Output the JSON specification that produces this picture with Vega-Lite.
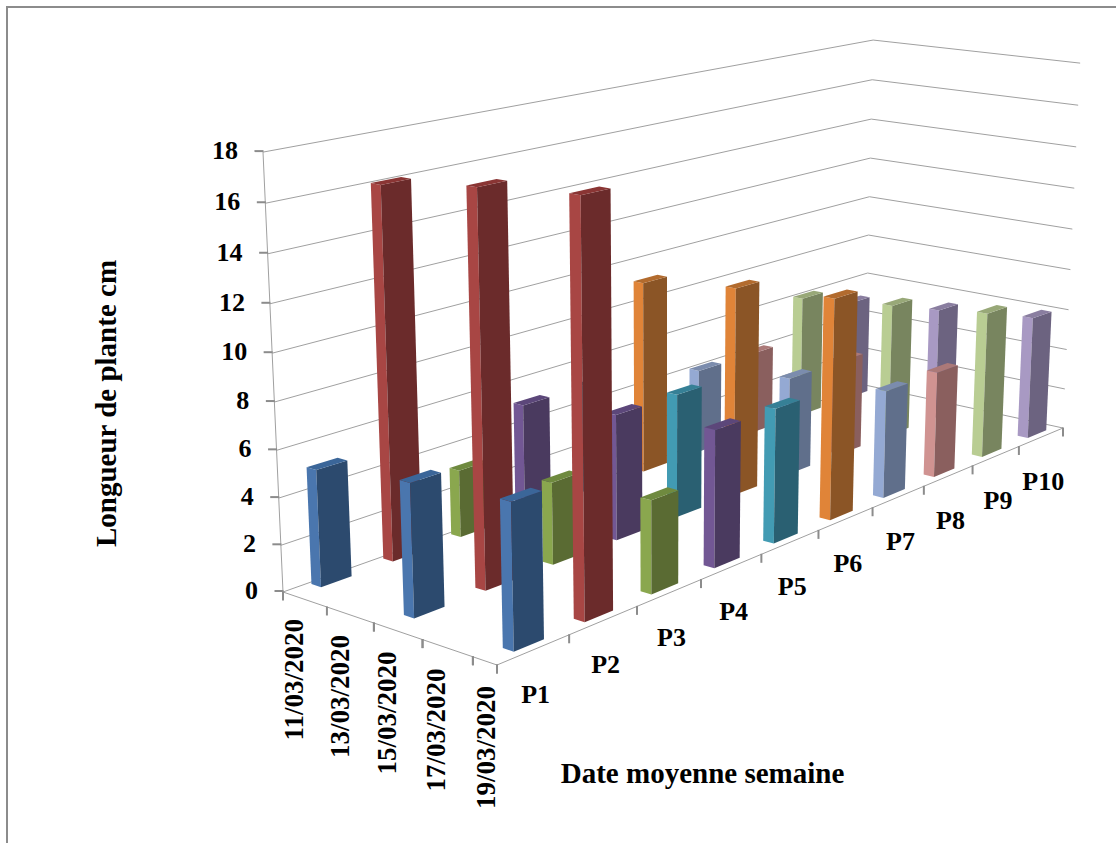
{"$schema":"https://vega.github.io/schema/vega-lite/v6.json","width":1112,"height":840,"autosize":{"type":"none"},"padding":{"left":7,"top":7,"right":0,"bottom":0},"background":"white","config":{"view":{"stroke":"#8c8c8c","strokeWidth":2},"font":"Liberation Serif"},"datasets":{"levels":[{"level":0},{"level":2},{"level":4},{"level":6},{"level":8},{"level":10},{"level":12},{"level":14},{"level":16},{"level":18}],"plants":[{"plant":"P1"},{"plant":"P2"},{"plant":"P3"},{"plant":"P4"},{"plant":"P5"},{"plant":"P6"},{"plant":"P7"},{"plant":"P8"},{"plant":"P9"},{"plant":"P10"}],"dates":[{"date":"11/03/2020"},{"date":"13/03/2020"},{"date":"15/03/2020"},{"date":"17/03/2020"},{"date":"19/03/2020"}],"bars":[{"plant":"P10","date":"11/03/2020","value":5},{"plant":"P9","date":"11/03/2020","value":6},{"plant":"P8","date":"11/03/2020","value":4},{"plant":"P7","date":"11/03/2020","value":4},{"plant":"P6","date":"11/03/2020","value":9},{"plant":"P5","date":"11/03/2020","value":5},{"plant":"P4","date":"11/03/2020","value":5},{"plant":"P3","date":"11/03/2020","value":3},{"plant":"P2","date":"11/03/2020","value":16},{"plant":"P1","date":"11/03/2020","value":5},{"plant":"P10","date":"15/03/2020","value":5.5},{"plant":"P9","date":"15/03/2020","value":6.5},{"plant":"P8","date":"15/03/2020","value":4.6},{"plant":"P7","date":"15/03/2020","value":4.6},{"plant":"P6","date":"15/03/2020","value":9.6},{"plant":"P5","date":"15/03/2020","value":5.6},{"plant":"P4","date":"15/03/2020","value":5.6},{"plant":"P3","date":"15/03/2020","value":3.6},{"plant":"P2","date":"15/03/2020","value":16.6},{"plant":"P1","date":"15/03/2020","value":5.6},{"plant":"P10","date":"19/03/2020","value":6},{"plant":"P9","date":"19/03/2020","value":7},{"plant":"P8","date":"19/03/2020","value":5},{"plant":"P7","date":"19/03/2020","value":5},{"plant":"P6","date":"19/03/2020","value":10},{"plant":"P5","date":"19/03/2020","value":6},{"plant":"P4","date":"19/03/2020","value":6},{"plant":"P3","date":"19/03/2020","value":4},{"plant":"P2","date":"19/03/2020","value":17},{"plant":"P1","date":"19/03/2020","value":6}]},"encoding":{"x":{"field":"px","type":"quantitative","scale":{"domain":[7,1119],"nice":false,"zero":false},"axis":{"title":"Date moyenne semaine","domain":false,"ticks":false,"labels":false,"grid":false,"titleX":695,"titleY":-74,"titleFont":"Liberation Serif","titleFontWeight":"bold","titleFontSize":29,"titleColor":"black","titleAlign":"center","titleBaseline":"middle"}},"y":{"field":"py","type":"quantitative","scale":{"domain":[847,7],"nice":false,"zero":false},"axis":{"title":"Longueur de plante cm","domain":false,"ticks":false,"labels":false,"grid":false,"titleX":99,"titleY":396,"titleAngle":270,"titleFont":"Liberation Serif","titleFontWeight":"bold","titleFontSize":29,"titleColor":"black","titleAlign":"center","titleBaseline":"middle"}}},"layer":[{"data":{"name":"levels"},"transform":[{"calculate":"[0,1,1]","as":"su"},{"calculate":"[0,0,1]","as":"sv"},{"calculate":"[0,1,2]","as":"ord"},{"flatten":["su","sv","ord"]},{"calculate":"datum.su","as":"u"},{"calculate":"datum.sv","as":"v"},{"calculate":"datum.level/18","as":"z"},{"calculate":"(834.13*datum.u+177.37*datum.v+283-33.15*datum.z)/(0.29148*datum.u-0.0737*datum.v+1-0.05*datum.z)","as":"px"},{"calculate":"(-94.78*datum.u+23.99*datum.v+592-447.5*datum.z)/(0.29148*datum.u-0.0737*datum.v+1-0.05*datum.z)","as":"py"}],"mark":{"type":"line","color":"#a0a0a0","strokeWidth":1},"encoding":{"detail":{"field":"level"},"order":{"field":"ord"}}},{"data":{"name":"levels"},"transform":[{"filter":"datum.level==0||datum.level==18"},{"calculate":"0","as":"u"},{"calculate":"0","as":"v"},{"calculate":"datum.level/18","as":"z"},{"calculate":"(834.13*datum.u+177.37*datum.v+283-33.15*datum.z)/(0.29148*datum.u-0.0737*datum.v+1-0.05*datum.z)","as":"px"},{"calculate":"(-94.78*datum.u+23.99*datum.v+592-447.5*datum.z)/(0.29148*datum.u-0.0737*datum.v+1-0.05*datum.z)","as":"py"}],"mark":{"type":"line","color":"#a0a0a0","strokeWidth":1},"encoding":{"order":{"field":"level"}}},{"data":{"name":"levels"},"transform":[{"filter":"datum.level==0"},{"calculate":"[0,0,1]","as":"u"},{"calculate":"[0,1,1]","as":"v"},{"calculate":"[0,1,2]","as":"ord"},{"flatten":["u","v","ord"]},{"calculate":"0","as":"z"},{"calculate":"(834.13*datum.u+177.37*datum.v+283-33.15*datum.z)/(0.29148*datum.u-0.0737*datum.v+1-0.05*datum.z)","as":"px"},{"calculate":"(-94.78*datum.u+23.99*datum.v+592-447.5*datum.z)/(0.29148*datum.u-0.0737*datum.v+1-0.05*datum.z)","as":"py"}],"mark":{"type":"line","color":"#a0a0a0","strokeWidth":1},"encoding":{"order":{"field":"ord"}}},{"data":{"name":"levels"},"transform":[{"calculate":"0","as":"u"},{"calculate":"0","as":"v"},{"calculate":"datum.level/18","as":"z"},{"calculate":"(834.13*datum.u+177.37*datum.v+283-33.15*datum.z)/(0.29148*datum.u-0.0737*datum.v+1-0.05*datum.z)-4","as":"px"},{"calculate":"(-94.78*datum.u+23.99*datum.v+592-447.5*datum.z)/(0.29148*datum.u-0.0737*datum.v+1-0.05*datum.z)-1","as":"py"}],"mark":{"type":"tick","orient":"horizontal","size":9,"thickness":2,"color":"#8c8c8c","opacity":1}},{"data":{"name":"plants"},"transform":[{"calculate":"toNumber(substring(datum.plant,1,3))/10","as":"u"},{"calculate":"1","as":"v"},{"calculate":"0","as":"z"},{"calculate":"(834.13*datum.u+177.37*datum.v+283-33.15*datum.z)/(0.29148*datum.u-0.0737*datum.v+1-0.05*datum.z)","as":"px"},{"calculate":"(-94.78*datum.u+23.99*datum.v+592-447.5*datum.z)/(0.29148*datum.u-0.0737*datum.v+1-0.05*datum.z)+4","as":"py"}],"mark":{"type":"tick","orient":"vertical","size":9,"thickness":2,"color":"#8c8c8c","opacity":1}},{"data":{"name":"dates"},"transform":[{"calculate":"toNumber(substring(datum.date,0,2))","as":"day"},{"calculate":"0","as":"u"},{"calculate":"datum.day==11?[0,0.218]:(datum.day==19?[1,1]:[0.218+0.1128*(datum.day-11),0.218+0.1128*(datum.day-11)])","as":"v"},{"flatten":["v"]},{"calculate":"0","as":"z"},{"calculate":"(834.13*datum.u+177.37*datum.v+283-33.15*datum.z)/(0.29148*datum.u-0.0737*datum.v+1-0.05*datum.z)","as":"px"},{"calculate":"(-94.78*datum.u+23.99*datum.v+592-447.5*datum.z)/(0.29148*datum.u-0.0737*datum.v+1-0.05*datum.z)+4","as":"py"}],"mark":{"type":"tick","orient":"vertical","size":9,"thickness":2,"color":"#8c8c8c","opacity":1}},{"data":{"name":"bars"},"transform":[{"calculate":"toNumber(substring(datum.plant,1,3))","as":"i"},{"calculate":"toNumber(substring(datum.date,0,2))","as":"day"},{"calculate":"0.055+0.1003*(datum.i-1)","as":"uc"},{"calculate":"0.04+0.1125*(datum.day-11)","as":"vc"},{"calculate":"['L','L','L','L','F','F','F','F','T','T','T','T']","as":"fa"},{"calculate":"[-1,-1,-1,-1,-1,1,1,-1,-1,-1,1,1]","as":"su"},{"calculate":"[-1,1,1,-1,1,1,1,1,-1,1,1,-1]","as":"sv"},{"calculate":"[0,0,1,1,0,0,1,1,1,1,1,1]","as":"sz"},{"calculate":"[0,1,2,3,4,5,6,7,8,9,10,11]","as":"ord"},{"flatten":["fa","su","sv","sz","ord"]},{"calculate":"datum.uc+0.021*datum.su","as":"u"},{"calculate":"datum.vc+0.024*datum.sv","as":"v"},{"calculate":"datum.sz*datum.value/18","as":"z"},{"calculate":"(834.13*datum.u+177.37*datum.v+283-33.15*datum.z)/(0.29148*datum.u-0.0737*datum.v+1-0.05*datum.z)","as":"px"},{"calculate":"(-94.78*datum.u+23.99*datum.v+592-447.5*datum.z)/(0.29148*datum.u-0.0737*datum.v+1-0.05*datum.z)","as":"py"},{"calculate":"datum.plant+datum.fa","as":"fc"},{"calculate":"datum.date+datum.plant+datum.fa","as":"id"}],"mark":{"type":"line","filled":true,"interpolate":"linear-closed"},"encoding":{"color":{"field":"fc","type":"nominal","legend":null,"scale":{"domain":["P1L","P1F","P1T","P2L","P2F","P2T","P3L","P3F","P3T","P4L","P4F","P4T","P5L","P5F","P5T","P6L","P6F","P6T","P7L","P7F","P7T","P8L","P8F","P8T","P9L","P9F","P9T","P10L","P10F","P10T"],"range":["#4A76AE","#2C4A6E","#3B6699","#A84644","#6B2B2B","#8A3534","#8AA74E","#5A6B33","#6F8A3F","#725794","#4A3A5F","#5C477A","#429BB3","#2A6072","#368096","#E08438","#8B5526","#B26B2E","#94A9D3","#606F8B","#7B8CAD","#D09391","#8A5F5E","#AB7978","#B9CD93","#78855F","#98A878","#A899C3","#6C6380","#8A7EA0"]}},"detail":{"field":"id"},"order":{"field":"ord"}}},{"data":{"name":"levels"},"transform":[{"calculate":"0","as":"u"},{"calculate":"0","as":"v"},{"calculate":"datum.level/18","as":"z"},{"calculate":"(834.13*datum.u+177.37*datum.v+283-33.15*datum.z)/(0.29148*datum.u-0.0737*datum.v+1-0.05*datum.z)-25","as":"px"},{"calculate":"(-94.78*datum.u+23.99*datum.v+592-447.5*datum.z)/(0.29148*datum.u-0.0737*datum.v+1-0.05*datum.z)-1","as":"py"}],"mark":{"type":"text","align":"right","baseline":"middle","font":"Liberation Serif","fontWeight":"bold","fontSize":26,"color":"black"},"encoding":{"text":{"field":"level","type":"quantitative"}}},{"data":{"name":"plants"},"transform":[{"calculate":"toNumber(substring(datum.plant,1,3))","as":"i"},{"calculate":"0.05+0.1*(datum.i-1)","as":"u"},{"calculate":"1","as":"v"},{"calculate":"0","as":"z"},{"calculate":"(834.13*datum.u+177.37*datum.v+283-33.15*datum.z)/(0.29148*datum.u-0.0737*datum.v+1-0.05*datum.z)+2","as":"px"},{"calculate":"(-94.78*datum.u+23.99*datum.v+592-447.5*datum.z)/(0.29148*datum.u-0.0737*datum.v+1-0.05*datum.z)+45","as":"py"}],"mark":{"type":"text","align":"center","baseline":"middle","font":"Liberation Serif","fontWeight":"bold","fontSize":26,"color":"black"},"encoding":{"text":{"field":"plant","type":"nominal"}}},{"data":{"name":"dates"},"transform":[{"calculate":"toNumber(substring(datum.date,0,2))","as":"day"},{"calculate":"0","as":"u"},{"calculate":"0.1+0.1*(datum.day-11)","as":"v"},{"calculate":"0","as":"z"},{"calculate":"(834.13*datum.u+177.37*datum.v+283-33.15*datum.z)/(0.29148*datum.u-0.0737*datum.v+1-0.05*datum.z)+26*datum.v-10.6","as":"px"},{"calculate":"(-94.78*datum.u+23.99*datum.v+592-447.5*datum.z)/(0.29148*datum.u-0.0737*datum.v+1-0.05*datum.z)+11*datum.v+19","as":"py"}],"mark":{"type":"text","align":"right","baseline":"middle","angle":270,"font":"Liberation Serif","fontWeight":"bold","fontSize":27,"color":"black"},"encoding":{"text":{"field":"date","type":"nominal"}}}]}
